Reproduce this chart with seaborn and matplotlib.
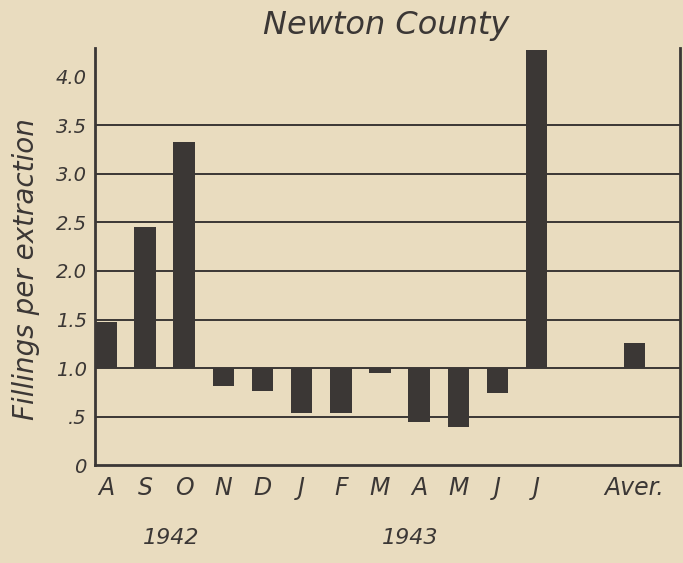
import matplotlib
matplotlib.use("Agg")
import matplotlib.pyplot as plt
import seaborn as sns
import numpy as np

# fillings per extraction, Aug 1942 - Jul 1943, plus the average
months = ['A', 'S', 'O', 'N', 'D', 'J', 'F', 'M', 'A', 'M', 'J', 'J']
values = [1.47, 2.45, 3.33, 0.81, 0.76, 0.54, 0.54, 0.95, 0.44, 0.39, 0.74, 4.28]
aver_label = 'Aver.'
aver_value = 1.26
years = ['1942', '1943']
ytick_values = [0, 0.5, 1.0, 1.5, 2.0, 2.5, 3.0, 3.5, 4.0]
ytick_labels = ['0', '.5', '1.0', '1.5', '2.0', '2.5', '3.0', '3.5', '4.0']
baseline = 1.0

paper = '#e9dcbf'
ink = '#3b3735'

sns.set_style("white")
plt.rcParams['font.family'] = ['DejaVu Sans']
plt.rcParams['font.style'] = 'italic'

fig = plt.figure(figsize=(6.83, 5.63), dpi=100, facecolor=paper)
ax = fig.add_axes([0.139, 0.174, 0.857, 0.741])
ax.set_facecolor(paper)

x = list(range(len(months))) + [13.5]
labels = months + [aver_label]
heights = np.array(values + [aver_value]) - baseline
ax.bar(x, heights, bottom=baseline, width=0.55, color=ink,
       edgecolor=ink, linewidth=0, zorder=3)

ax.set_xlim(-0.28, 14.67)
ax.set_ylim(0, 4.3)
ax.set_xticks(x)
ax.set_xticklabels(labels, fontsize=17, color=ink)
ax.set_yticks(ytick_values)
ax.set_yticklabels(ytick_labels, fontsize=14, color=ink)
ax.tick_params(axis='x', length=0, pad=8)
ax.tick_params(axis='y', length=0, pad=6)

ax.grid(axis='y', color=ink, linewidth=1.4, zorder=1)
ax.yaxis.get_gridlines()[0].set_visible(False)
ax.yaxis.get_gridlines()[-1].set_visible(False)
ax.grid(axis='x', visible=False)

for side in ['left', 'right', 'bottom']:
    ax.spines[side].set_color(ink)
    ax.spines[side].set_linewidth(2)
ax.spines['top'].set_visible(False)

ax.set_ylabel('Fillings per extraction', fontsize=20, color=ink)
ax.yaxis.set_label_coords(-0.094, 0.47)
fig.text(0.565, 0.955, 'Newton County', fontsize=23, color=ink,
         ha='center', va='center')
fig.text(0.25, 0.045, years[0], fontsize=16, color=ink, ha='center', va='center')
fig.text(0.60, 0.045, years[1], fontsize=16, color=ink, ha='center', va='center')

fig.savefig('out.png', dpi=100, facecolor=paper)
